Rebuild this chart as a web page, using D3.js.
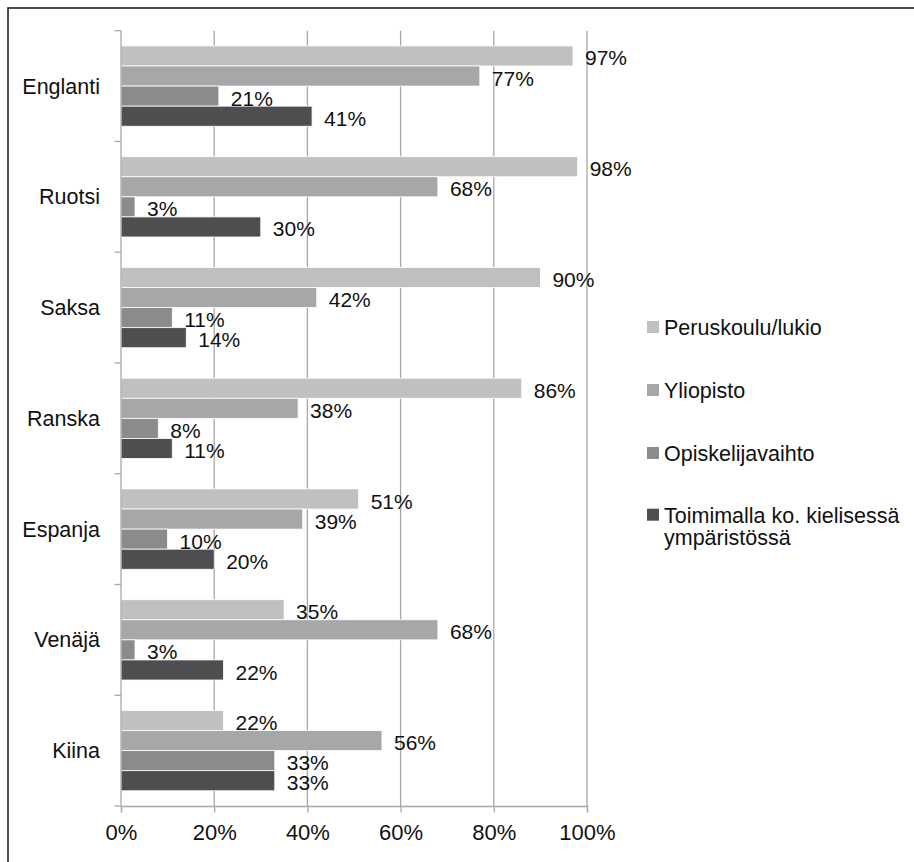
<!DOCTYPE html>
<html>
<head>
<meta charset="utf-8">
<script src="https://cdn.jsdelivr.net/npm/d3@7"></script>
<style>
  html, body { margin: 0; padding: 0; background: #fff; }
  svg { display: block; }
  text { font-family: "Liberation Sans", Arial, Helvetica, sans-serif; fill: #111; }
</style>
</head>
<body>
<svg id="chart" width="914" height="862"></svg>
<script>
// Languages (categories) and the four ways of learning them (series)
const languages = ["Englanti", "Ruotsi", "Saksa", "Ranska", "Espanja", "Venäjä", "Kiina"];
const seriesNames = ["Peruskoulu/lukio", "Yliopisto", "Opiskelijavaihto", "Toimimalla ko. kielisessä ympäristössä"];
const peruskoulu = [97, 98, 90, 86, 51, 35, 22];
const yliopisto = [77, 68, 42, 38, 39, 68, 56];
const vaihto = [21, 3, 11, 8, 10, 3, 33];
const toimimalla = [41, 30, 14, 11, 20, 22, 33];
const xTicks = [0, 20, 40, 60, 80, 100];
const colors = ["#c0c0c1", "#a7a7a9", "#8b8b8c", "#4e4e50"];

const seriesValues = [peruskoulu, yliopisto, vaihto, toimimalla];

const svg = d3.select("#chart");

// Frame around the figure
svg.append("rect")
  .attr("x", 8).attr("y", 8)
  .attr("width", 940).attr("height", 900)
  .attr("fill", "none").attr("stroke", "#222").attr("stroke-width", 1.6);

const plot = { left: 121, right: 587, top: 30.7, bottom: 806 };

const x = d3.scaleLinear().domain([0, 100]).range([plot.left, plot.right]);
const y0 = d3.scaleBand().domain(languages).range([plot.top, plot.bottom])
  .paddingInner(0.275).paddingOuter(0.1375);
const y1 = d3.scaleBand().domain(d3.range(seriesNames.length)).range([0, y0.bandwidth()]);

// Vertical gridlines
svg.append("g").selectAll("line").data(xTicks.slice(1)).join("line")
  .attr("x1", d => x(d)).attr("x2", d => x(d))
  .attr("y1", plot.top).attr("y2", plot.bottom)
  .attr("stroke", "#a8a8a8").attr("stroke-width", 1.3);

// Bars
const groups = svg.append("g").selectAll("g").data(languages).join("g")
  .attr("transform", d => `translate(0,${y0(d)})`);

groups.selectAll("rect")
  .data((d, i) => seriesValues.map((vals, s) => ({ s, v: vals[i] })))
  .join("rect")
  .attr("x", x(0))
  .attr("y", d => y1(d.s))
  .attr("width", d => x(d.v) - x(0))
  .attr("height", y1.bandwidth())
  .attr("fill", d => colors[d.s])
  .attr("stroke", "#fff").attr("stroke-width", 0.8);

// Value labels
groups.selectAll("text")
  .data((d, i) => seriesValues.map((vals, s) => ({ s, v: vals[i] })))
  .join("text")
  .attr("x", d => x(d.v) + 12)
  .attr("y", d => y1(d.s) + y1.bandwidth() - 0.5)
  .attr("font-size", 21)
  .text(d => d.v + "%");

// Y axis with ticks at category boundaries
const yAxis = svg.append("g");
yAxis.append("line")
  .attr("x1", plot.left).attr("x2", plot.left)
  .attr("y1", plot.top).attr("y2", plot.bottom)
  .attr("stroke", "#a8a8a8").attr("stroke-width", 1.3);
const step = y0.step();
yAxis.selectAll("line.tick").data(d3.range(languages.length + 1)).join("line")
  .attr("class", "tick")
  .attr("x1", plot.left - 6.5).attr("x2", plot.left)
  .attr("y1", i => plot.top + i * step).attr("y2", i => plot.top + i * step)
  .attr("stroke", "#a8a8a8").attr("stroke-width", 1.3);
yAxis.selectAll("text").data(languages).join("text")
  .attr("x", 100)
  .attr("y", d => y0(d) + y0.bandwidth() / 2 + 7.5)
  .attr("text-anchor", "end")
  .attr("font-size", 21.5)
  .text(d => d);

// X axis
const xAxis = d3.axisBottom(x).tickValues(xTicks).tickSize(6.5).tickPadding(12)
  .tickFormat(d => d + "%");
const xg = svg.append("g").attr("transform", `translate(0,${plot.bottom})`).call(xAxis);
xg.select(".domain").attr("stroke", "#a8a8a8").attr("stroke-width", 1.3);
xg.selectAll(".tick line").attr("stroke", "#a8a8a8").attr("stroke-width", 1.3);
xg.selectAll(".tick text")
  .attr("font-size", 22)
  .attr("font-family", "\"Liberation Sans\", Arial, Helvetica, sans-serif")
  .attr("fill", "#111")
  .attr("dy", "0.71em");

// Legend
const legend = svg.append("g");
const legendBase = [335, 398, 461, 522.7];
const legendItems = legend.selectAll("g").data(seriesNames).join("g")
  .attr("transform", (d, i) => `translate(647,${legendBase[i]})`);
legendItems.append("rect")
  .attr("x", 0).attr("y", -14)
  .attr("width", 12).attr("height", 12)
  .attr("fill", (d, i) => colors[i]);
legendItems.append("text")
  .attr("x", 17).attr("y", 0)
  .attr("font-size", 21.5)
  .each(function (d) {
    const t = d3.select(this);
    const parts = d === seriesNames[3] ? ["Toimimalla ko. kielisessä", "ympäristössä"] : [d];
    parts.forEach((p, k) => {
      t.append("tspan").attr("x", 17).attr("dy", k === 0 ? 0 : 22.5).text(p);
    });
  });
</script>
</body>
</html>
